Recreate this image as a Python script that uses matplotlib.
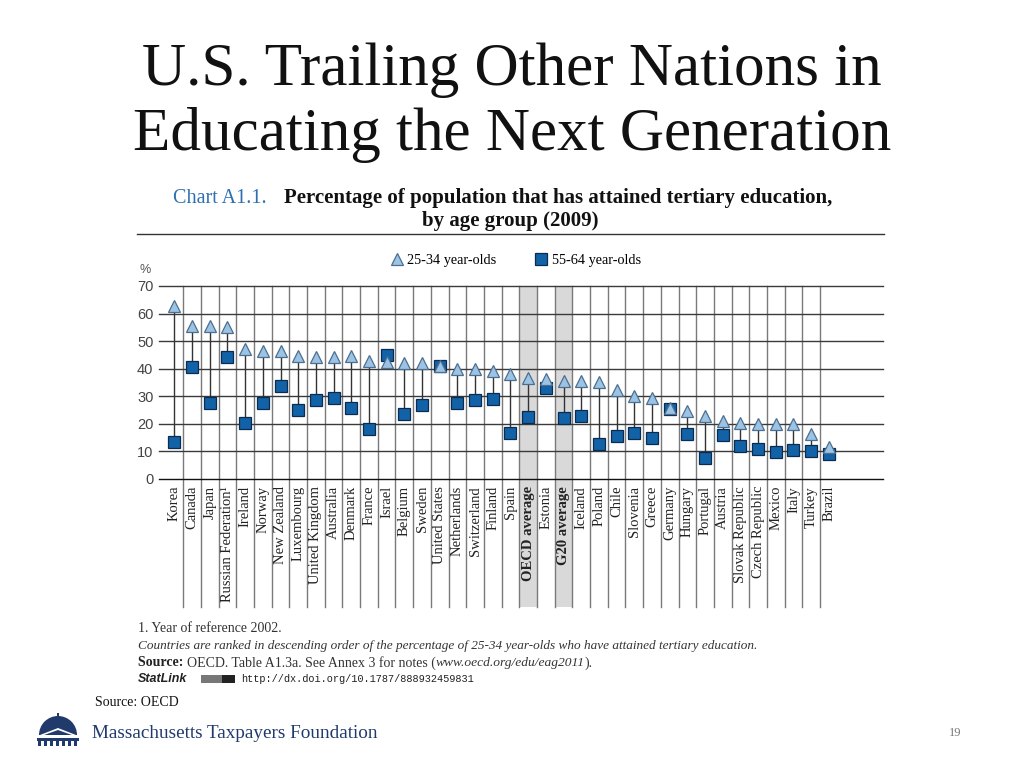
import matplotlib
matplotlib.use("Agg")
import matplotlib.pyplot as plt
from matplotlib.patches import Rectangle, Polygon, Wedge
from matplotlib.lines import Line2D
import numpy as np

# ---------------- data ----------------
countries = ["Korea", "Canada", "Japan", "Russian Federation¹", "Ireland", "Norway",
             "New Zealand", "Luxembourg", "United Kingdom", "Australia", "Denmark",
             "France", "Israel", "Belgium", "Sweden", "United States", "Netherlands",
             "Switzerland", "Finland", "Spain", "OECD average", "Estonia",
             "G20 average", "Iceland", "Poland", "Chile", "Slovenia", "Greece",
             "Germany", "Hungary", "Portugal", "Austria", "Slovak Republic",
             "Czech Republic", "Mexico", "Italy", "Turkey", "Brazil"]
young = [62.7, 55.5, 55.5, 55.0, 47.3, 46.3, 46.3, 44.6, 44.4, 44.4, 44.6,
         42.9, 42.4, 42.2, 42.2, 40.9, 39.8, 39.8, 39.2, 38.0, 36.8, 36.2,
         35.7, 35.7, 35.1, 32.2, 30.1, 29.2, 25.7, 24.8, 22.9, 20.9, 20.3,
         20.0, 20.0, 20.0, 16.5, 11.5]
old = [13.4, 40.7, 27.6, 44.4, 20.3, 27.5, 33.8, 25.1, 28.8, 29.3, 25.9,
       18.3, 44.9, 23.6, 27.0, 41.1, 27.6, 28.6, 28.9, 16.6, 22.4, 32.9,
       22.0, 22.8, 12.7, 15.7, 16.6, 15.0, 25.4, 16.3, 7.6, 16.0, 12.0,
       11.0, 9.8, 10.4, 10.2, 9.0]
highlighted = ["OECD average", "G20 average"]
yticks = [0, 10, 20, 30, 40, 50, 60, 70]

# ---------------- figure ----------------
W, H = 1024, 768
fig = plt.figure(figsize=(W / 100, H / 100), dpi=100)
fig.patch.set_facecolor("white")
renderer = fig.canvas.get_renderer()

def fx(px):
    return px / W

def fy(py):
    return 1 - py / H

SERIF = ["Liberation Serif", "DejaVu Serif"]
SANS = ["Liberation Sans", "DejaVu Sans"]
MONO = ["Liberation Mono", "DejaVu Sans Mono"]
NAVY = "#1f3a6b"

def chain(x_px, y_px, pieces, gap=0.0):
    """Draw consecutive text pieces on one line, each starting where the last ended."""
    xc = x_px
    for txt, kw in pieces:
        t = fig.text(fx(xc), fy(y_px), txt, ha="left", va="center", **kw)
        bb = t.get_window_extent(renderer=renderer)
        xc = bb.x1 + gap
    return xc

# Slide title
fig.text(fx(512), fy(70), "U.S. Trailing Other Nations in", ha="center", va="center",
         fontsize=44, family=SERIF, color="#111111")
fig.text(fx(512), fy(135), "Educating the Next Generation", ha="center", va="center",
         fontsize=44, family=SERIF, color="#111111")

# Chart heading
fig.text(fx(173), fy(203), "Chart A1.1.", ha="left", va="baseline", fontsize=14.5,
         family=SERIF, color="#2e6fb0")
fig.text(fx(284), fy(203), "Percentage of population that has attained tertiary education,",
         ha="left", va="baseline", fontsize=15.0, family=SERIF, weight="bold", color="#111111")
fig.text(fx(510), fy(226), "by age group (2009)", ha="center", va="baseline", fontsize=15.0,
         family=SERIF, weight="bold", color="#111111")
fig.add_artist(Line2D([fx(137), fx(884)], [fy(234), fy(234)], color="#333333", lw=1.0))

fig.text(fx(140), fy(270), "%", ha="left", va="center", fontsize=9, family=SANS, color="#555555")

# ---------------- axes ----------------
ax = fig.add_axes([fx(159), fy(479), fx(883) - fx(159), (479 - 286) / H])
x = np.arange(len(countries))
ax.set_xlim(-0.87, 40.06)
ax.set_ylim(0, 70)
for s in ax.spines.values():
    s.set_visible(False)
ax.set_facecolor("none")

bottom_ax = -(607 - 479) / (479 - 286)
trans = ax.get_xaxis_transform()
# shaded average columns
for i, c in enumerate(countries):
    if c in highlighted:
        ax.add_patch(Rectangle((i - 0.5, bottom_ax), 1, 1 - bottom_ax, transform=trans,
                               facecolor="#d9d9d9", edgecolor="none", clip_on=False, zorder=0))
# vertical separators
for i in range(len(countries) - 1):
    ax.add_line(Line2D([i + 0.5, i + 0.5], [bottom_ax, 1], transform=trans,
                       color="#7a7a7a", lw=1.0, clip_on=False, zorder=1))
# horizontal gridlines
for v in yticks:
    ax.axhline(v, color="#3a3a3a" if v else "#111111", lw=1.0, zorder=1, clip_on=False)

# connectors
ax.vlines(x, old, young, color="#333333", lw=1.0, zorder=2)
ax.plot(x, old, linestyle="none", marker="s", ms=8, markerfacecolor="#1262a8",
        markeredgecolor="#0b2c4f", markeredgewidth=0.9, zorder=3, clip_on=False,
        label="55-64 year-olds")
ax.plot(x, young, linestyle="none", marker="^", ms=9, markerfacecolor="#9cc3e4",
        markeredgecolor="#4d6f8f", markeredgewidth=0.9, zorder=4, clip_on=False,
        label="25-34 year-olds")

ax.set_yticks(yticks)
ax.set_yticklabels([str(v) for v in yticks], fontsize=10.5, family=SANS, color="#444444")
ax.set_xticks(x)
ax.set_xticklabels(countries, rotation=90, fontsize=10.5, family=SERIF, color="#222222")
for lbl in ax.get_xticklabels():
    if lbl.get_text() in highlighted:
        lbl.set_weight("bold")
ax.tick_params(axis="both", length=0)
ax.tick_params(axis="x", pad=5)
ax.tick_params(axis="y", pad=4)

h, l = ax.get_legend_handles_labels()
leg = ax.legend(h[::-1], l[::-1], loc="center", bbox_to_anchor=(0.492, 1.13), ncol=2,
                frameon=False, handletextpad=0.25, columnspacing=2.6, handlelength=1.0,
                prop={"family": SERIF, "size": 10.3})

# ---------------- footnotes ----------------
fig.text(fx(138), fy(628), "1. Year of reference 2002.", ha="left", va="center",
         fontsize=10, family=SERIF, color="#333333")
fig.text(fx(138), fy(646), "Countries are ranked in descending order of the percentage of 25-34 "
         "year-olds who have attained tertiary education.", ha="left", va="center",
         fontsize=9.5, family=SERIF, style="italic", color="#333333")
src = 10.0
chain(138, 663, [
    ("Source: ", dict(fontsize=src, family=SERIF, weight="bold", color="#222222")),
    ("OECD. Table A1.3a. See Annex 3 for notes (", dict(fontsize=src, family=SERIF, color="#333333")),
    ("www.oecd.org/edu/eag2011", dict(fontsize=src - 0.3, family=SERIF, style="italic", color="#333333")),
    (").", dict(fontsize=src, family=SERIF, color="#333333")),
])
fig.text(fx(138), fy(679), "StatLink", ha="left", va="center", fontsize=9, family=SANS,
         weight="bold", style="italic", color="#222222")
fig.add_artist(Rectangle((fx(201), fy(683)), fx(34), (8 / H), facecolor="#777777",
                         edgecolor="none", transform=fig.transFigure))
fig.add_artist(Rectangle((fx(222), fy(683)), fx(13), (8 / H), facecolor="#222222",
                         edgecolor="none", transform=fig.transFigure))
fig.text(fx(241), fy(679), "http://dx.doi.org/10.1787/888932459831", ha="left", va="center",
         fontsize=7.4, family=MONO, color="#222222")

fig.text(fx(95), fy(703), "Source: OECD", ha="left", va="center", fontsize=10,
         family=SERIF, color="#111111")

# ---------------- logo ----------------
lax = fig.add_axes([fx(36), fy(748), fx(46), (748 - 710) / H])
lax.set_xlim(36, 82)
lax.set_ylim(748, 710)
lax.axis("off")
lax.add_patch(Wedge((58, 735), 19, 180, 360, facecolor=NAVY, edgecolor="none"))
lax.add_patch(Rectangle((55.5, 717), 5, 8, facecolor=NAVY, edgecolor="none"))
lax.add_patch(Rectangle((57, 713), 2, 4, facecolor=NAVY, edgecolor="none"))
lax.add_patch(Polygon([[40, 735], [58, 728], [76, 735], [76, 736.5], [58, 730], [40, 736.5]],
                      closed=True, facecolor="white", edgecolor="none"))
lax.add_patch(Rectangle((37, 737.5), 42, 3.5, facecolor=NAVY, edgecolor="none"))
for cx in np.arange(38, 80, 6):
    lax.add_patch(Rectangle((cx, 741), 3, 5, facecolor=NAVY, edgecolor="none"))

fig.text(fx(92), fy(734), "Massachusetts Taxpayers Foundation", ha="left", va="center",
         fontsize=13.8, family=SERIF, color=NAVY)
fig.text(fx(955), fy(733), "19", ha="center", va="center", fontsize=9, family=SERIF,
         color="#777777")

fig.savefig("out.png", dpi=100, facecolor="white")
